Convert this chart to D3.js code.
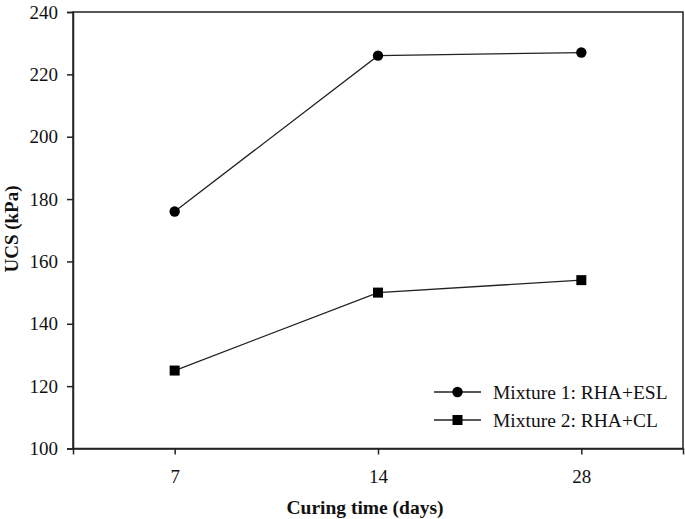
<!DOCTYPE html>
<html><head><meta charset="utf-8">
<script src="https://cdn.jsdelivr.net/npm/d3@7"></script>
<style>body{margin:0;background:#fff}svg{display:block}text{font-family:"Liberation Serif","Times New Roman",serif;fill:#111}</style>
</head><body>
<script>
const categories = ["7", "14", "28"];
const mixture1 = [176, 226, 227];
const mixture2 = [125, 150, 154];
const yTicks = [100, 120, 140, 160, 180, 200, 220, 240];
const seriesNames = ["Mixture 1: RHA+ESL", "Mixture 2: RHA+CL"];

const W = 685, H = 519;
const m = {left: 73, right: 2, top: 12, bottom: 70};
const svg = d3.select("body").append("svg").attr("width", W).attr("height", H);
const x = d3.scalePoint().domain(categories).range([m.left, W - m.right]).padding(0.5);
const y = d3.scaleLinear().domain([100, 240]).range([H - m.bottom - 0.5, m.top]);

const ink = "#222";
svg.append("rect").attr("x", m.left).attr("y", m.top)
  .attr("width", W - m.right - m.left).attr("height", y(100) - m.top)
  .attr("fill", "none").attr("stroke", ink).attr("stroke-width", 1.5);

const yAxis = svg.append("g").attr("transform", `translate(${m.left},0)`)
  .call(d3.axisLeft(y).tickValues(yTicks).tickSize(6).tickPadding(9).tickFormat(d3.format("d")));
const xAxis = svg.append("g").attr("transform", `translate(0,${y(100)})`)
  .call(d3.axisBottom(x).tickSize(6).tickPadding(15));
[yAxis, xAxis].forEach(g => {
  g.attr("font-size", 19).attr("font-family", '"Liberation Serif",serif');
  g.select(".domain").attr("stroke", ink).attr("stroke-width", 1.5);
  g.selectAll(".tick line").attr("stroke", ink).attr("stroke-width", 1.5);
  g.selectAll(".tick text").attr("fill", "#111");
});

const line = d3.line().x((d, i) => x(categories[i])).y(d => y(d));
[mixture1, mixture2].forEach((s, k) => {
  svg.append("path").datum(s).attr("d", line).attr("fill", "none").attr("stroke", ink).attr("stroke-width", 1.3);
  const g = svg.append("g");
  s.forEach((v, i) => {
    if (k === 0) g.append("circle").attr("cx", x(categories[i])).attr("cy", y(v)).attr("r", 5.2).attr("fill", "#000");
    else g.append("rect").attr("x", x(categories[i]) - 5).attr("y", y(v) - 5).attr("width", 10).attr("height", 10).attr("fill", "#000");
  });
});

const lg = svg.append("g");
seriesNames.forEach((n, k) => {
  const ly = 392 + k * 28;
  lg.append("line").attr("x1", 434).attr("x2", 481).attr("y1", ly).attr("y2", ly).attr("stroke", ink).attr("stroke-width", 1.3);
  if (k === 0) lg.append("circle").attr("cx", 457.5).attr("cy", ly).attr("r", 5.2).attr("fill", "#000");
  else lg.append("rect").attr("x", 452.5).attr("y", ly - 5).attr("width", 10).attr("height", 10).attr("fill", "#000");
  lg.append("text").attr("x", 493).attr("y", ly + 7).attr("font-size", 19.5).text(n);
});

svg.append("text").attr("x", 365).attr("y", 514).attr("text-anchor", "middle")
  .attr("font-size", 19.5).attr("font-weight", "bold").text("Curing time (days)");
svg.append("text").attr("transform", `translate(18,229) rotate(-90)`).attr("text-anchor", "middle")
  .attr("font-size", 19).attr("font-weight", "bold").text("UCS (kPa)");
</script>
</body></html>
